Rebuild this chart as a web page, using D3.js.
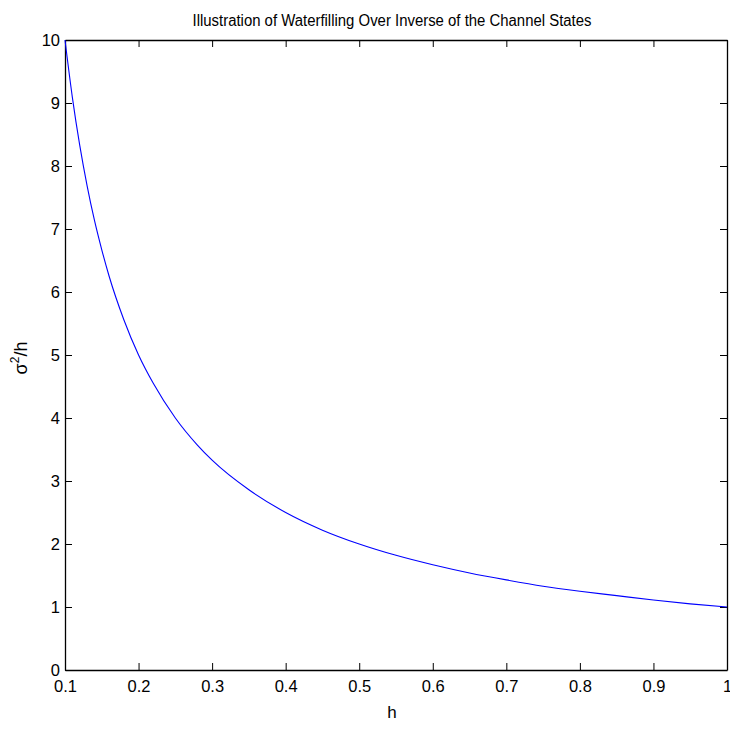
<!DOCTYPE html>
<html>
<head>
<meta charset="utf-8">
<script src="https://cdn.jsdelivr.net/npm/d3@7"></script>
<style>
  html, body { margin: 0; padding: 0; background: #fff; }
  svg { display: block; }
  text { font-family: "Liberation Sans", Arial, Helvetica, sans-serif; fill: #000; }
</style>
</head>
<body>
<svg id="chart" width="730" height="730"></svg>
<script>
// Channel gain samples and the corresponding noise-to-gain ratio sigma^2/h
const hValues = [0.10, 0.11, 0.12, 0.13, 0.14, 0.15, 0.16, 0.18, 0.20, 0.22, 0.25, 0.28,
                 0.30, 0.35, 0.40, 0.45, 0.50, 0.55, 0.60, 0.65, 0.70, 0.75, 0.80, 0.85,
                 0.90, 0.95, 1.00];
const ratioValues = [10.0, 9.09, 8.33, 7.69, 7.14, 6.67, 6.25, 5.56, 5.00, 4.55, 4.00, 3.57,
                     3.33, 2.86, 2.50, 2.22, 2.00, 1.82, 1.67, 1.54, 1.43, 1.33, 1.25, 1.18,
                     1.11, 1.05, 1.00];
const xTicks = [0.1, 0.2, 0.3, 0.4, 0.5, 0.6, 0.7, 0.8, 0.9, 1];
const yTicks = [0, 1, 2, 3, 4, 5, 6, 7, 8, 9, 10];
const titleText = "Illustration of Waterfilling Over Inverse of the Channel States";
const xLabel = "h";

const svg = d3.select("#chart");
const plotLeft = 65, plotRight = 727, plotTop = 40, plotBottom = 670;

const x = d3.scaleLinear().domain([0.1, 1]).range([plotLeft, plotRight]);
const y = d3.scaleLinear().domain([0, 10]).range([plotBottom, plotTop]);

const tickLen = 7;

// Frame axes: ticks point inward on all four sides
const axBottom = d3.axisBottom(x).tickValues(xTicks).tickSizeInner(-tickLen).tickSizeOuter(0)
  .tickPadding(10).tickFormat(d3.format("~g"));
const axTop = d3.axisTop(x).tickValues(xTicks).tickSizeInner(-tickLen).tickSizeOuter(0).tickFormat("");
const axLeft = d3.axisLeft(y).tickValues(yTicks).tickSizeInner(-tickLen).tickSizeOuter(0)
  .tickPadding(5).tickFormat(d3.format("~g"));
const axRight = d3.axisRight(y).tickValues(yTicks).tickSizeInner(-tickLen).tickSizeOuter(0).tickFormat("");

function styleAxis(g) {
  g.selectAll("path.domain").attr("stroke", "#000").attr("stroke-width", 1.3);
  g.selectAll(".tick line").attr("stroke", "#000").attr("stroke-width", 1);
  g.selectAll(".tick text").attr("font-size", 16.5)
    .attr("font-family", "'Liberation Sans', Arial, sans-serif").attr("fill", "#000");
}

svg.append("g").attr("transform", `translate(0,${plotBottom})`).call(axBottom).call(styleAxis)
  .selectAll(".tick text").attr("dy", "0.71em");
svg.append("g").attr("transform", `translate(0,${plotTop})`).call(axTop).call(styleAxis);
svg.append("g").attr("transform", `translate(${plotLeft},0)`).call(axLeft).call(styleAxis);
svg.append("g").attr("transform", `translate(${plotRight},0)`).call(axRight).call(styleAxis);

// Curve
const data = hValues.map((h, i) => ({ h, v: ratioValues[i] }));
const line = d3.line().x(d => x(d.h)).y(d => y(d.v)).curve(d3.curveMonotoneX);
svg.append("path").datum(data)
  .attr("d", line)
  .attr("fill", "none")
  .attr("stroke", "#0000ff")
  .attr("stroke-width", 1.1);

// Title
svg.append("text")
  .attr("x", (plotLeft + plotRight) / 2 - 4)
  .attr("y", 26)
  .attr("text-anchor", "middle")
  .attr("font-size", 16)
  .attr("font-family", "'Liberation Sans Narrow', 'Liberation Sans', Arial, sans-serif")
  .attr("textLength", 399)
  .attr("lengthAdjust", "spacingAndGlyphs")
  .text(titleText);

// X label
svg.append("text")
  .attr("x", 392)
  .attr("y", 718)
  .attr("text-anchor", "middle")
  .attr("font-size", 17)
  .text(xLabel);

// Y label: sigma squared over h
const yl = svg.append("text")
  .attr("transform", "translate(27,358) rotate(-90)")
  .attr("text-anchor", "middle")
  .attr("font-size", 18);
yl.append("tspan").text("σ");
yl.append("tspan").attr("dy", -8).attr("font-size", 12).text("2");
yl.append("tspan").attr("dy", 8).text("/h");
</script>
</body>
</html>
